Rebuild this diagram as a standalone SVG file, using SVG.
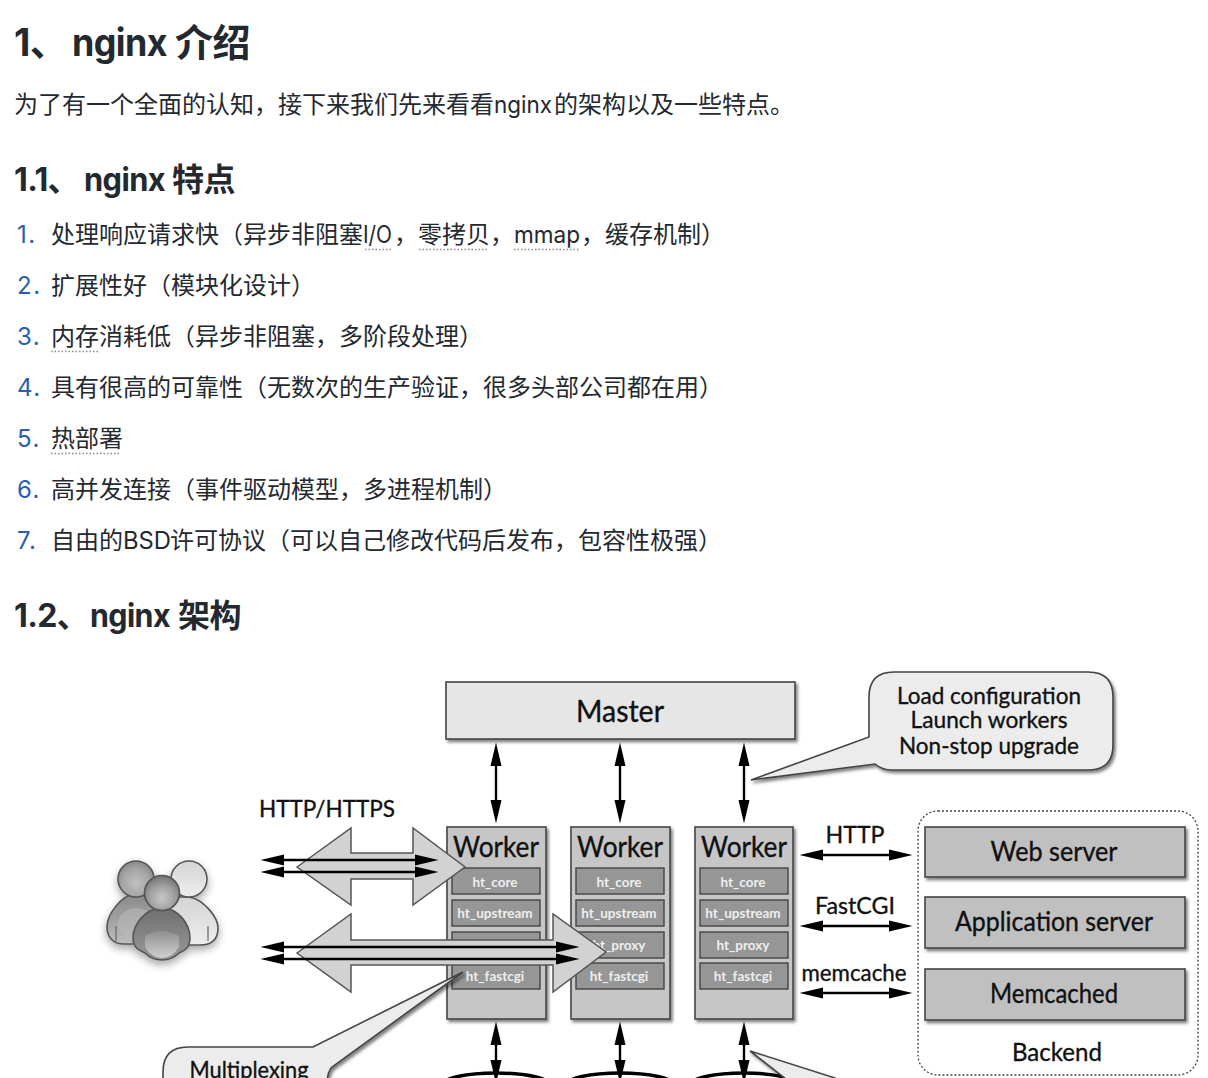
<svg xmlns="http://www.w3.org/2000/svg" width="1208" height="1078" viewBox="0 0 1208 1078">
<defs>
<style>
text{font-family:Inter,"Noto Sans CJK SC",sans-serif;fill:#24292f}
.h1{font-size:38px;font-weight:700;letter-spacing:-.6px}
.h2{font-size:32px;font-weight:700;letter-spacing:-.6px}
.p{font-size:24px}
.n{font-size:24px;fill:#2a5db0;letter-spacing:1.5px}
.u{stroke:#8a8a8a;stroke-width:1.5;stroke-dasharray:1.5 2;fill:none}
.d text{font-family:Lato,"Liberation Sans",sans-serif;fill:#111;stroke:#111;stroke-width:.35;text-anchor:middle}
.d text.s{font-size:13.500px;fill:#eee;stroke:none;font-weight:700}
.box{stroke:#444;stroke-width:1.6;filter:url(#sh)}
.w{fill:#c6c6c6}
.m{fill:#e6e6e6}
.b{fill:#c0c0c0}
.sub{fill:#969696;stroke:#444;stroke-width:1.4}
.c{fill:#ececec;stroke:#444;stroke-width:1.6;filter:url(#sh)}
.big{fill:#d2d2d2;stroke:#555;stroke-width:1.5}
.a{stroke:#000;stroke-width:2.4;fill:none;marker-start:url(#ah);marker-end:url(#ah)}
.disk{fill:#fff;stroke:#000;stroke-width:3.500}
.pp{stroke:#555;stroke-width:1.6}
.arm{stroke:#666;stroke-width:1.2;fill:none}
</style>
<filter id="sh" x="-10%" y="-10%" width="125%" height="125%"><feDropShadow dx="2" dy="2.5" stdDeviation="1.6" flood-color="#000" flood-opacity=".5"/></filter>
<filter id="ps" x="-20%" y="-20%" width="140%" height="140%"><feGaussianBlur in="SourceGraphic" stdDeviation=".5" result="b"/><feDropShadow in="b" dx="0" dy="4" stdDeviation="4" flood-color="#000" flood-opacity=".35"/></filter>
<marker id="ah" viewBox="0 -6 24 12" refX="0" refY="0" markerWidth="24" markerHeight="12" markerUnits="userSpaceOnUse" orient="auto-start-reverse"><path d="M0,-5.500L23.500,0L0,5.500z" fill="#000"/></marker>
<linearGradient id="gl" x1="0" y1="0" x2="0" y2="1"><stop offset="0" stop-color="#8a8a8a"/><stop offset=".55" stop-color="#a2a2a2"/><stop offset="1" stop-color="#bebebe"/></linearGradient>
<linearGradient id="gr" x1="0" y1="0" x2="0" y2="1"><stop offset="0" stop-color="#d4d4d4"/><stop offset="1" stop-color="#eeeeee"/></linearGradient>
<linearGradient id="gf" x1="0" y1="0" x2="0" y2="1"><stop offset="0" stop-color="#6e6e6e"/><stop offset="1" stop-color="#9a9a9a"/></linearGradient>
<linearGradient id="gg" x1="0" y1="0" x2="0" y2="1"><stop offset="0" stop-color="#8f8f8f"/><stop offset="1" stop-color="#d0d0d0"/></linearGradient>
<radialGradient id="hl" cx=".5" cy=".6" r=".6"><stop offset="0" stop-color="#c0c0c0"/><stop offset=".65" stop-color="#a4a4a4"/><stop offset="1" stop-color="#868686"/></radialGradient>
<radialGradient id="hf" cx=".5" cy=".65" r=".6"><stop offset="0" stop-color="#c8c8c8"/><stop offset=".6" stop-color="#a0a0a0"/><stop offset="1" stop-color="#7a7a7a"/></radialGradient>
</defs>
<rect width="1208" height="1078" fill="#fff"/>

<g id="article">
<text class="h1" x="14" y="56">1、<tspan x="72" textLength="95" lengthAdjust="spacingAndGlyphs">nginx</tspan><tspan x="175">介绍</tspan></text>
<text class="p" x="14" y="113">为了有一个全面的认知，接下来我们先来看看<tspan textLength="58" lengthAdjust="spacingAndGlyphs">nginx</tspan><tspan x="554">的架构以及一些特点。</tspan></text>
<text class="h2" x="14" y="191">1.1、<tspan x="84" textLength="81" lengthAdjust="spacingAndGlyphs">nginx</tspan><tspan x="172">特点</tspan></text>
<text class="n" x="17" y="243">1.</text><text class="p" x="51" y="243">处理响应请求快（异步非阻塞<tspan textLength="29" lengthAdjust="spacingAndGlyphs">I/O</tspan><tspan x="394">，</tspan><tspan x="418">零拷贝，</tspan><tspan x="514" textLength="66" lengthAdjust="spacingAndGlyphs">mmap</tspan><tspan x="581">，</tspan><tspan x="605">缓存机制）</tspan></text>
<text class="n" x="17" y="294">2.</text><text class="p" x="51" y="294">扩展性好（模块化设计）</text>
<text class="n" x="17" y="345">3.</text><text class="p" x="51" y="345">内存消耗低（异步非阻塞，多阶段处理）</text>
<text class="n" x="17" y="396">4.</text><text class="p" x="51" y="396">具有很高的可靠性（无数次的生产验证，很多头部公司都在用）</text>
<text class="n" x="17" y="447">5.</text><text class="p" x="51" y="447">热部署</text>
<text class="n" x="17" y="498">6.</text><text class="p" x="51" y="498">高并发连接（事件驱动模型，多进程机制）</text>
<text class="n" x="17" y="549">7.</text><text class="p" x="51" y="549">自由的<tspan textLength="48" lengthAdjust="spacingAndGlyphs">BSD</tspan><tspan x="170">许可协议（可以自己修改代码后发布，包容性极强）</tspan></text>
<text class="h2" x="14" y="627">1.2、<tspan x="90" textLength="80" lengthAdjust="spacingAndGlyphs">nginx</tspan><tspan x="178">架构</tspan></text>
<path class="u" d="M365,249.500H393M419,249.500H488M514,249.500H580M51,351.500H99M51,453.500H121"/>
</g>

<g class="d">
<g id="master"><rect class="box m" x="446" y="682" width="349" height="57"/><text x="620" y="722" font-size="30" textLength="88" lengthAdjust="spacingAndGlyphs">Master</text></g>

<g id="worker1"><rect class="box w" x="447" y="827" width="99" height="192"/><text x="496" y="857" font-size="28" textLength="86" lengthAdjust="spacingAndGlyphs">Worker</text>
<rect class="sub" x="452" y="868" width="88" height="26"/><text class="s" x="495" y="887">ht_core</text>
<rect class="sub" x="452" y="900" width="88" height="26"/><text class="s" x="495" y="918">ht_upstream</text>
<rect class="sub" x="452" y="932" width="88" height="26"/>
<rect class="sub" x="452" y="963" width="88" height="26"/><text class="s" x="495" y="981">ht_fastcgi</text></g>

<g id="worker2"><rect class="box w" x="571" y="827" width="99" height="192"/><text x="620" y="857" font-size="28" textLength="86" lengthAdjust="spacingAndGlyphs">Worker</text>
<rect class="sub" x="576" y="868" width="88" height="26"/><text class="s" x="619" y="887">ht_core</text>
<rect class="sub" x="576" y="900" width="88" height="26"/><text class="s" x="619" y="918">ht_upstream</text>
<rect class="sub" x="576" y="932" width="88" height="26"/><text class="s" x="619" y="950">ht_proxy</text>
<rect class="sub" x="576" y="963" width="88" height="26"/><text class="s" x="619" y="981">ht_fastcgi</text></g>

<g id="worker3"><rect class="box w" x="695" y="827" width="98" height="192"/><text x="744" y="857" font-size="28" textLength="86" lengthAdjust="spacingAndGlyphs">Worker</text>
<rect class="sub" x="700" y="868" width="88" height="26"/><text class="s" x="743" y="887">ht_core</text>
<rect class="sub" x="700" y="900" width="88" height="26"/><text class="s" x="743" y="918">ht_upstream</text>
<rect class="sub" x="700" y="932" width="88" height="26"/><text class="s" x="743" y="950">ht_proxy</text>
<rect class="sub" x="700" y="963" width="88" height="26"/><text class="s" x="743" y="981">ht_fastcgi</text></g>

<g id="backend"><rect x="918" y="811" width="280" height="264" rx="20" fill="none" stroke="#444" stroke-width="1.3" stroke-dasharray="2 2"/>
<text x="1057" y="1061" font-size="25" textLength="90" lengthAdjust="spacingAndGlyphs">Backend</text></g>
<g id="web-server"><rect class="box b" x="925" y="827" width="260" height="50"/><text x="1054" y="861" font-size="27" textLength="127" lengthAdjust="spacingAndGlyphs">Web server</text></g>
<g id="application-server"><rect class="box b" x="925" y="897" width="260" height="51"/><text x="1054" y="931" font-size="27" textLength="198" lengthAdjust="spacingAndGlyphs">Application server</text></g>
<g id="memcached"><rect class="box b" x="925" y="969" width="260" height="51"/><text x="1054" y="1003" font-size="27" textLength="128" lengthAdjust="spacingAndGlyphs">Memcached</text></g>

<g id="disks"><ellipse class="disk" cx="496" cy="1085" rx="54" ry="12"/><ellipse class="disk" cx="620" cy="1085" rx="54" ry="12"/><ellipse class="disk" cx="744" cy="1085" rx="54" ry="12"/></g>

<g id="users" filter="url(#ps)">
<path class="pp" fill="url(#gr)" d="M189,897C205,900 218,918 218,928C218,938 213,945 200,945L170,945L170,897z"/>
<path class="arm" d="M208,926V941"/>
<circle class="pp" cx="189" cy="879" r="18" fill="url(#gr)"/>
<path class="pp" fill="url(#gl)" d="M136,893C120,896 107,915 107,927C107,937 113,944 124,944L165,944L165,893z"/>
<path class="arm" d="M116,926V941"/>
<ellipse cx="136" cy="924" rx="18" ry="16" fill="#bbb" opacity=".55"/>
<circle class="pp" cx="136" cy="879" r="18" fill="url(#hl)"/>
<path class="pp" fill="url(#gf)" d="M162,908C145,908 133,925 133,938C133,948 140,951 145,953C150,958 156,960 162,960C168,960 174,958 179,953C184,951 190,948 190,938C190,925 179,908 162,908z"/>
<path fill="url(#gg)" d="M145,936Q162,926 179,936L179,947Q172,958 162,958Q152,958 145,947z"/>
<circle class="pp" cx="162" cy="893" r="17.500" fill="url(#hf)"/>
</g>

<g id="connectors">
<path class="big" d="M297,867L351,828V853H413V828L465,867L413,905V879H351V905z"/>
<path class="big" d="M297,953L351,914V940H553V914L606,952L553,992V965H351V992z"/>
<path class="a" d="M284,860H415"/><path class="a" d="M284,872H415"/>
<path class="a" d="M284,947H556"/><path class="a" d="M284,959H556"/>
<path class="a" d="M496,766V800"/><path class="a" d="M620,766V800"/><path class="a" d="M744,766V800"/>
<path class="a" d="M496,1045V1060"/><path class="a" d="M620,1045V1060"/><path class="a" d="M744,1045V1060"/>
<path class="a" d="M823,855H889"/><path class="a" d="M823,926H889"/><path class="a" d="M823,993H889"/>
</g>

<text x="327" y="817" font-size="24" textLength="136" lengthAdjust="spacingAndGlyphs">HTTP/HTTPS</text>
<text x="855" y="843" font-size="24" textLength="59" lengthAdjust="spacingAndGlyphs">HTTP</text>
<text x="855" y="914" font-size="24" textLength="80" lengthAdjust="spacingAndGlyphs">FastCGI</text>
<text x="854" y="981" font-size="24" textLength="105" lengthAdjust="spacingAndGlyphs">memcache</text>

<g id="callout-master"><path class="c" d="M894,672H1088Q1113,672 1113,697V745Q1113,770 1088,770H892Q882,770 875,764L751,780L869,737V697Q869,672 894,672z"/>
<text x="989" y="704" font-size="24" textLength="184" lengthAdjust="spacingAndGlyphs">Load configuration</text>
<text x="989" y="728" font-size="24" textLength="157" lengthAdjust="spacingAndGlyphs">Launch workers</text>
<text x="989" y="754" font-size="24" textLength="180" lengthAdjust="spacingAndGlyphs">Non-stop upgrade</text></g>
<g id="callout-multiplexing"><path class="c" d="M188,1047H313L463,972L332,1067Q327,1072 327,1085V1100H163V1072Q163,1047 188,1047z"/>
<text x="249" y="1078" font-size="24" textLength="119" lengthAdjust="spacingAndGlyphs">Multiplexing</text></g>
<g id="callout-disk"><path class="c" d="M750,1051L835,1078V1090H800z"/></g>
</g>
</svg>
